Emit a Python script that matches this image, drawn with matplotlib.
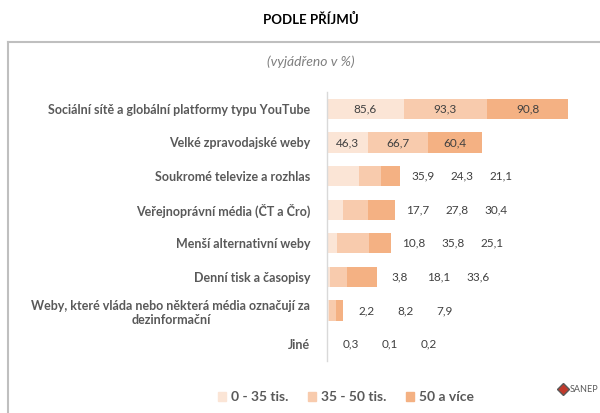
import matplotlib
matplotlib.use("Agg")
import matplotlib.pyplot as plt
from matplotlib.lines import Line2D
from matplotlib.patches import Rectangle
import numpy as np

plt.rcParams['font.family'] = ['Lato', 'DejaVu Sans']

categories = [
    "Sociální sítě a globální platformy typu YouTube",
    "Velké zpravodajské weby",
    "Soukromé televize a rozhlas",
    "Veřejnoprávní média (ČT a Čro)",
    "Menší alternativní weby",
    "Denní tisk a časopisy",
    "Weby, které vláda nebo některá média označují za\ndezinformační",
    "Jiné",
]
series_names = ["0 - 35 tis.", "35 - 50 tis.", "50 a více"]
low = [85.6, 46.3, 35.9, 17.7, 10.8, 3.8, 2.2, 0.3]
mid = [93.3, 66.7, 24.3, 27.8, 35.8, 18.1, 8.2, 0.1]
high = [90.8, 60.4, 21.1, 30.4, 25.1, 33.6, 7.9, 0.2]

colors = ["#FBE5D6", "#F8CBAD", "#F4B183"]
label_color = "#595959"
value_color = "#404040"

W, H = 600, 413
fig = plt.figure(figsize=(W / 100, H / 100), dpi=100)

# frame of the chart area
fig.add_artist(Line2D([8 / W, 1.0], [1 - 42 / H, 1 - 42 / H], color="#BFBFBF", lw=1.5))
fig.add_artist(Line2D([8 / W, 8 / W], [0, 1 - 42 / H], color="#BFBFBF", lw=1.5))

fig.text(311 / W, 1 - 19 / H, "PODLE PŘÍJMŮ", ha="center", va="center",
         fontsize=9.5, fontweight="bold", color="black")
fig.text(311 / W, 1 - 62 / H, "(vyjádřeno v %)", ha="center", va="center",
         fontsize=10, style="italic", color="#7F7F7F")

ax_left, ax_right = 327, 600
ax_top, ax_bot = 92, 361
ax = fig.add_axes([ax_left / W, 1 - ax_bot / H, (ax_right - ax_left) / W, (ax_bot - ax_top) / H])
px_per_unit = 0.894
xmax = (ax_right - ax_left) / px_per_unit
ax.set_xlim(0, xmax)
n = len(categories)
ax.set_ylim(n - 0.5, -0.5)

y = np.arange(n)
data = [low, mid, high]
left = np.zeros(n)
for vals, c, name in zip(data, colors, series_names):
    ax.barh(y, vals, left=left, height=0.6, color=c, label=name, edgecolor="none")
    left = left + np.array(vals)
totals = left

# data labels
for i in range(n):
    if totals[i] > 150:
        start = 0
        for vals in data:
            v = vals[i]
            ax.text(start + v / 2, i, f"{v:.1f}".replace(".", ","), ha="center", va="center",
                    fontsize=8.5, color=value_color)
            start += v
    else:
        first = totals[i] + 23 / px_per_unit
        step = 39 / px_per_unit
        for k, vals in enumerate(data):
            ax.text(first + k * step, i, f"{vals[i]:.1f}".replace(".", ","), ha="center", va="center",
                    fontsize=8.5, color=value_color)

for s in ["top", "right", "bottom"]:
    ax.spines[s].set_visible(False)
ax.spines["left"].set_color("#D9D9D9")
ax.spines["left"].set_linewidth(1)
ax.set_xticks([])
ax.set_yticks(y)
ax.set_yticklabels(categories, fontsize=9, fontweight="bold", color=label_color, multialignment="center")
ax.tick_params(axis="y", length=0, pad=12)

# legend
handles = [Rectangle((0, 0), 1, 1, color=c) for c in colors]
leg = fig.legend(handles, series_names, loc="center", bbox_to_anchor=(346 / W, 1 - 397 / H),
                 ncol=3, frameon=False, fontsize=10, handlelength=0.6, handleheight=0.6,
                 columnspacing=1.4, handletextpad=0.35)
for t in leg.get_texts():
    t.set_color(label_color)
    t.set_fontweight("bold")

# SANEP logo approximation
fig.text(584 / W, 1 - 389 / H, "SANEP", ha="center", va="center", fontsize=6.5, color="#595959")
fig.add_artist(Line2D([563 / W], [1 - 389 / H], marker="D", markersize=6, color="#C0392B",
                      markeredgecolor="#595959", markeredgewidth=1))

fig.savefig("out.png", dpi=100)
